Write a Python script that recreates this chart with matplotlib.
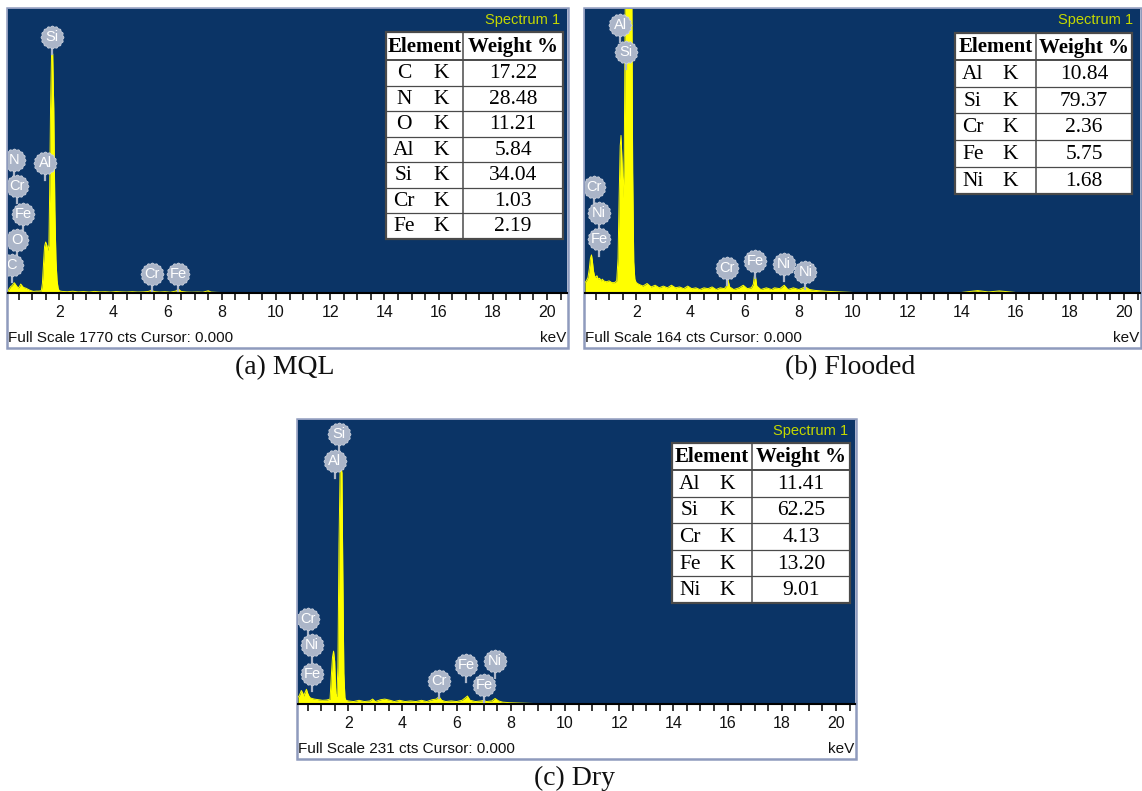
import numpy as np
import matplotlib
matplotlib.use("Agg")
import matplotlib.pyplot as plt
from matplotlib.patches import Rectangle
from matplotlib.path import Path
from matplotlib.lines import Line2D
import matplotlib.transforms as mtransforms

# ---------------------------------------------------------------- data
# EDS spectra: energy (keV) and counts, one pair of lists per condition
MQL_KEV = [0.11, 0.15, 0.20, 0.25, 0.30, 0.34, 0.37, 0.42, 0.49, 0.54, 0.58, 0.63,
           0.68, 0.77, 0.92, 1.05, 1.15, 1.25, 1.34, 1.38, 1.42, 1.46, 1.50, 1.54,
           1.58, 1.62, 1.65, 1.68, 1.72, 1.76, 1.80, 1.84, 1.88, 1.92, 1.96, 2.00,
           2.10, 2.30, 2.50, 2.70, 2.90, 3.10, 3.30, 3.50, 3.70, 3.90, 4.10, 4.30,
           4.50, 4.70, 4.90, 5.10, 5.30, 5.41, 5.50, 5.70, 5.90, 6.10, 6.30, 6.40,
           6.50, 6.70, 6.90, 7.10, 7.30, 7.50, 7.60, 7.80, 8.00, 9.00, 10.0, 12.0,
           14.0, 16.0, 18.0, 20.8]
MQL_CTS = [10, 25, 38, 45, 55, 64, 58, 45, 31, 42, 56, 45,
           35, 30, 17, 10, 12, 12, 14, 60, 180, 290, 318, 300,
           265, 300, 650, 1150, 1514, 1490, 1150, 520, 210, 80, 30, 14,
           10, 8, 11, 7, 9, 6, 10, 7, 8, 6, 9, 7,
           6, 8, 6, 7, 10, 18, 9, 6, 8, 5, 12, 24,
           10, 6, 5, 6, 5, 14, 6, 4, 3, 1, 1, 0.5,
           0.5, 0.5, 0.5, 0.5]

FLD_KEV = [0.11, 0.16, 0.22, 0.27, 0.31, 0.35, 0.38, 0.42, 0.46, 0.50, 0.55, 0.60,
           0.65, 0.70, 0.75, 0.80, 0.90, 1.00, 1.10, 1.20, 1.28, 1.33, 1.37, 1.41,
           1.44, 1.48, 1.52, 1.56, 1.60, 1.64, 1.68, 1.74, 1.79, 1.83, 1.87, 1.91,
           1.95, 2.00, 2.10, 2.25, 2.40, 2.55, 2.70, 2.85, 3.00, 3.15, 3.30, 3.45,
           3.60, 3.75, 3.90, 4.05, 4.20, 4.35, 4.50, 4.65, 4.80, 4.95, 5.10, 5.25,
           5.33, 5.38, 5.45, 5.60, 5.80, 5.95, 6.10, 6.25, 6.32, 6.38, 6.45, 6.60,
           6.80, 7.00, 7.10, 7.30, 7.46, 7.60, 7.80, 8.00, 8.24, 8.40, 8.60, 9.00,
           10.0, 12.0, 14.0, 14.6, 15.0, 15.4, 16.0, 18.0, 20.8]
FLD_CTS = [6, 7, 9, 14, 20, 22, 19, 13, 10, 9, 10, 8,
           8.5, 7, 8, 7, 6.5, 7, 6, 6, 7, 20, 55, 85,
           91, 75, 55, 80, 180, 300, 330, 340, 320, 200, 70, 18,
           8, 6, 5, 4, 5.5, 3.5, 4.5, 3, 4, 3, 4.5, 3,
           3.5, 2.5, 4, 2.5, 3, 2, 3, 2.5, 3.5, 2, 3, 2.5,
           4, 8, 3.5, 2, 3, 4.5, 2.5, 3, 5, 12, 4, 2,
           3, 2, 3, 2.5, 4.5, 2, 3, 2, 3.5, 2, 1.5, 1,
           0.3, 0.3, 0.3, 1.4, 0.6, 1.2, 0.3, 0.2, 0.2]

DRY_KEV = [0.15, 0.20, 0.27, 0.32, 0.36, 0.40, 0.46, 0.50, 0.55, 0.60, 0.66, 0.75,
           0.90, 1.05, 1.20, 1.33, 1.38, 1.42, 1.46, 1.50, 1.54, 1.58, 1.62, 1.66,
           1.70, 1.74, 1.77, 1.80, 1.84, 1.88, 1.92, 2.00, 2.20, 2.40, 2.60, 2.80,
           2.90, 3.00, 3.20, 3.35, 3.55, 3.70, 3.90, 4.10, 4.30, 4.50, 4.70, 4.90,
           5.10, 5.25, 5.35, 5.45, 5.60, 5.80, 6.00, 6.20, 6.32, 6.40, 6.50, 6.70,
           6.90, 7.00, 7.10, 7.30, 7.42, 7.55, 7.70, 8.00, 9.00, 10.0, 12.0, 14.0,
           16.0, 18.0, 20.8]
DRY_CTS = [5.5, 7, 11, 9, 6.5, 9, 12, 9, 6.5, 5, 4.5, 4,
           3.5, 3, 3.2, 4, 24, 38, 43, 35, 8, 6, 30, 130,
           188, 192, 188, 110, 25, 5, 3, 2.5, 2, 3, 2, 2.5,
           4, 2, 3.5, 4, 3, 2, 3, 2, 2.5, 2, 3, 2,
           3.5, 4, 6, 3, 2, 2.5, 2, 3, 5, 6.5, 3, 2,
           2.5, 3, 2, 2.5, 4.5, 2.5, 1.5, 1, 0.3, 0.3, 0.2, 0.2,
           0.2, 0.2, 0.2]

# full-scale counts of each spectrum
MQL_FULL, FLD_FULL, DRY_FULL = 1770, 164, 231

# quantification tables
MQL_ELEMENTS = ["C", "N", "O", "Al", "Si", "Cr", "Fe"]
MQL_WEIGHT = [17.22, 28.48, 11.21, 5.84, 34.04, 1.03, 2.19]
FLD_ELEMENTS = ["Al", "Si", "Cr", "Fe", "Ni"]
FLD_WEIGHT = [10.84, 79.37, 2.36, 5.75, 1.68]
DRY_ELEMENTS = ["Al", "Si", "Cr", "Fe", "Ni"]
DRY_WEIGHT = [11.41, 62.25, 4.13, 13.20, 9.01]

# peak identification tags: symbol and line energy (keV)
MQL_TAG_NAMES = ["Si", "Al", "N", "Cr", "Fe", "O", "C", "Cr", "Fe"]
MQL_TAG_KEV = [1.74, 1.49, 0.35, 0.45, 0.66, 0.45, 0.24, 5.41, 6.40]
FLD_TAG_NAMES = ["Al", "Si", "Cr", "Ni", "Fe", "Cr", "Fe", "Ni", "Ni"]
FLD_TAG_KEV = [1.42, 1.62, 0.45, 0.63, 0.63, 5.36, 6.38, 7.46, 8.24]
DRY_TAG_NAMES = ["Si", "Al", "Cr", "Ni", "Fe", "Cr", "Fe", "Fe", "Ni"]
DRY_TAG_KEV = [1.66, 1.51, 0.52, 0.66, 0.66, 5.35, 6.35, 7.01, 7.42]

CAPTIONS = ["(a) MQL", "(b) Flooded", "(c) Dry"]

# ---------------------------------------------------------------- layout
W, H = 1142, 791
SANS = "Liberation Sans"
SERIF = "Liberation Serif"
BLUE = "#0b3466"
YELLOW = "#ffff00"
TAG_FACE = "#abb5c8"
FRAME = "#8f9bbd"
plt.rcParams["font.family"] = SANS

# vertical slot (axes fraction) of every tag
MQL_TAG_Y = [0.901, 0.458, 0.468, 0.377, 0.278, 0.187, 0.099, 0.067, 0.067]
FLD_TAG_Y = [0.944, 0.849, 0.373, 0.282, 0.190, 0.088, 0.113, 0.102, 0.074]
DRY_TAG_Y = [0.951, 0.856, 0.298, 0.207, 0.105, 0.081, 0.137, 0.067, 0.151]

fig = plt.figure(figsize=(W / 100, H / 100), dpi=100)


def fxy(x, y):
    return x / W, 1 - y / H


# bumpy disc used as tag background
_t = np.linspace(0, 2 * np.pi, 97)
_r = 1 + 0.045 * np.cos(16 * _t)
TAG_PATH = Path(np.column_stack([_r * np.cos(_t), _r * np.sin(_t)]), closed=True)


def draw_panel(frame, zero_px, kev, cts, full, tag_names, tag_kev, tag_y,
               elements, weights, table, caption, cap_xy):
    fx0, fy0, fx1, fy1 = frame
    # outer frame of the spectrum window
    fig.add_artist(Rectangle(fxy(fx0, fy1), (fx1 - fx0) / W, (fy1 - fy0) / H,
                             transform=fig.transFigure, facecolor="white",
                             edgecolor=FRAME, lw=1.8, zorder=-1))
    ax0, ay0, ax1, ay1 = fx0 + 1, fy0 + 1, fx1 - 1, fy0 + 285
    ax = fig.add_axes([ax0 / W, 1 - ay1 / H, (ax1 - ax0) / W, (ay1 - ay0) / H])
    ax.set_facecolor(BLUE)
    scale = 27.1  # pixels per keV
    ax.set_xlim((ax0 - zero_px) / scale, (ax1 - zero_px) / scale)
    ax.set_ylim(0, full)
    ax.fill_between(kev, cts, 0, color=YELLOW, lw=0, zorder=2)
    ax.plot(kev, cts, color=YELLOW, lw=0.7, zorder=2)
    for side in ("top", "left", "right"):
        ax.spines[side].set_visible(False)
    ax.spines["bottom"].set_color("black")
    ax.spines["bottom"].set_linewidth(1.5)
    ax.spines["bottom"].set_zorder(3)
    ax.set_yticks([])
    ax.set_xticks(np.arange(2, 21, 2))
    ax.set_xticks(np.arange(0.5, 20.6, 0.5), minor=True)
    ax.tick_params(axis="x", which="both", direction="out", length=5, width=1.1,
                   color="black", pad=3.5, labelsize=11.5, labelcolor="#111111")

    # peak tags
    h = ay1 - ay0
    tr = mtransforms.blended_transform_factory(ax.transData, ax.transAxes)
    for name, e, yf in zip(tag_names, tag_kev, tag_y):
        ax.add_line(Line2D([e, e], [yf - 9 / h, yf - 17 / h], transform=tr,
                           color=TAG_FACE, lw=1.6, zorder=4))
        ax.plot([e], [yf], transform=tr, marker=TAG_PATH, markersize=16.5,
                markerfacecolor=TAG_FACE, markeredgecolor="#ccd2de",
                markeredgewidth=0.6, zorder=5)
        ax.text(e, yf, name, transform=tr, ha="center", va="center",
                color="white", fontsize=10.5, zorder=6, clip_on=True)

    # text around the window
    fig.text(*fxy(fx1 - 8, fy0 + 12), "Spectrum 1", ha="right", va="center",
             color="#c4d800", fontsize=10.5)
    fig.text(*fxy(fx0 + 1, fy0 + 330), f"Full Scale {full} cts Cursor: 0.000",
             ha="left", va="center", fontsize=11, color="#111111")
    fig.text(*fxy(fx1 - 2, fy0 + 330), "keV", ha="right", va="center",
             fontsize=11, color="#111111")

    # quantification table
    tx0, ttop, tsplit, tx1, hh, rh = table
    n = len(elements)
    tbot = ttop + hh + n * rh
    fig.add_artist(Rectangle(fxy(tx0, tbot), (tx1 - tx0) / W, (tbot - ttop) / H,
                             transform=fig.transFigure, facecolor="white",
                             edgecolor="#4a4a4a", lw=1.6, zorder=3))
    fig.add_artist(Line2D([tsplit / W] * 2, [1 - ttop / H, 1 - tbot / H],
                          transform=fig.transFigure, color="#4a4a4a", lw=1.1, zorder=4))
    for i in range(n):
        yl = ttop + hh + i * rh
        fig.add_artist(Line2D([tx0 / W, tx1 / W], [1 - yl / H] * 2,
                              transform=fig.transFigure, color="#4a4a4a",
                              lw=1.4 if i == 0 else 0.9, zorder=4))
    fig.text(*fxy((tx0 + tsplit) / 2, ttop + hh / 2 + 1), "Element", ha="center",
             va="center", family=SERIF, fontsize=15, fontweight="bold", zorder=5)
    fig.text(*fxy((tsplit + tx1) / 2, ttop + hh / 2 + 1), "Weight %", ha="center",
             va="center", family=SERIF, fontsize=15, fontweight="bold", zorder=5)
    for i, (el, wt) in enumerate(zip(elements, weights)):
        yc = ttop + hh + (i + 0.5) * rh + 1
        fig.text(*fxy(tx0 + 18, yc), el, ha="center", va="center", family=SERIF,
                 fontsize=15.5, zorder=5)
        fig.text(*fxy(tx0 + 55, yc), "K", ha="center", va="center", family=SERIF,
                 fontsize=15.5, zorder=5)
        fig.text(*fxy((tsplit + tx1) / 2, yc), f"{wt:.2f}", ha="center",
                 va="center", family=SERIF, fontsize=15.5, zorder=5)

    fig.text(*fxy(*cap_xy), caption, ha="center", va="center", family=SERIF,
             fontsize=20, color="#111111")


draw_panel((7, 8, 568, 348), 5, MQL_KEV, MQL_CTS, MQL_FULL,
           MQL_TAG_NAMES, MQL_TAG_KEV, MQL_TAG_Y, MQL_ELEMENTS, MQL_WEIGHT,
           (386, 32, 463, 563, 28, 25.5), CAPTIONS[0], (285, 368))
draw_panel((584, 8, 1141, 348), 582, FLD_KEV, FLD_CTS, FLD_FULL,
           FLD_TAG_NAMES, FLD_TAG_KEV, FLD_TAG_Y, FLD_ELEMENTS, FLD_WEIGHT,
           (955, 33, 1036, 1132, 27, 26.7), CAPTIONS[1], (850, 368))
draw_panel((297, 419, 856, 759), 294, DRY_KEV, DRY_CTS, DRY_FULL,
           DRY_TAG_NAMES, DRY_TAG_KEV, DRY_TAG_Y, DRY_ELEMENTS, DRY_WEIGHT,
           (672, 443, 752, 850, 27, 26.6), CAPTIONS[2], (575, 778))

fig.savefig("out.png", dpi=100, facecolor="white")
